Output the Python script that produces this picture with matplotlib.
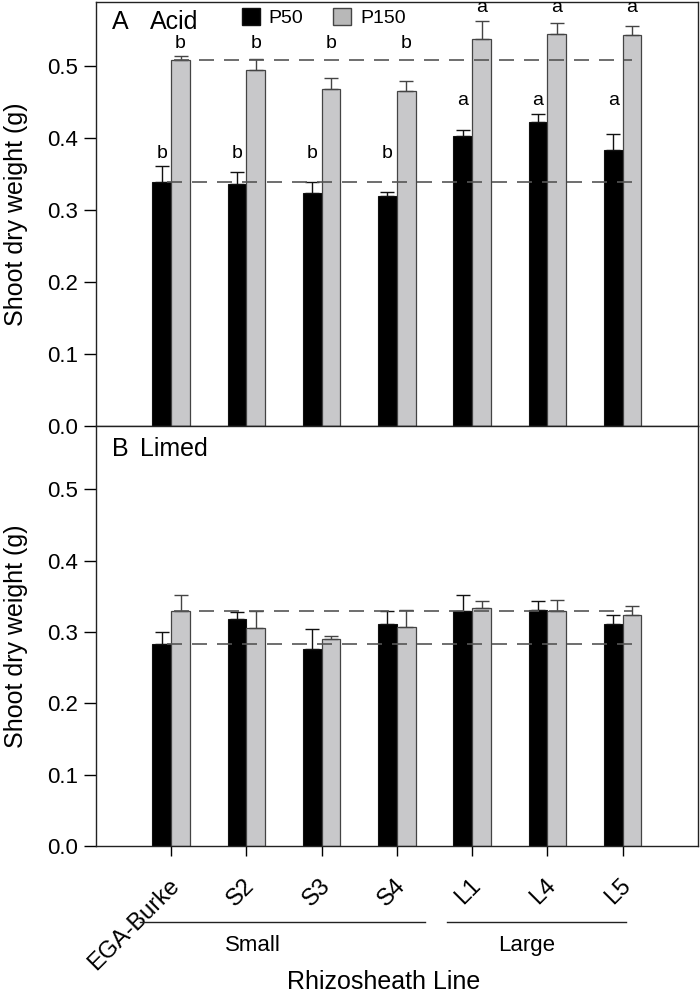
import matplotlib
matplotlib.use('Agg')
import matplotlib.pyplot as plt
from matplotlib.patches import Patch
from matplotlib.transforms import ScaledTranslation
import numpy as np

plt.rcParams['font.family'] = ['Liberation Sans', 'DejaVu Sans']

# Data
lines = ['EGA-Burke', 'S2', 'S3', 'S4', 'L1', 'L4', 'L5']

acid_p50 = [0.339, 0.336, 0.324, 0.320, 0.403, 0.422, 0.383]
acid_p50_se = [0.022, 0.017, 0.015, 0.005, 0.008, 0.012, 0.022]
acid_p150 = [0.509, 0.495, 0.468, 0.466, 0.538, 0.544, 0.543]
acid_p150_se = [0.005, 0.015, 0.016, 0.013, 0.025, 0.016, 0.013]
acid_p50_letters = ['b', 'b', 'b', 'b', 'a', 'a', 'a']
acid_p150_letters = ['b', 'b', 'b', 'b', 'a', 'a', 'a']

limed_p50 = [0.283, 0.319, 0.276, 0.312, 0.330, 0.331, 0.312]
limed_p50_se = [0.017, 0.009, 0.028, 0.017, 0.022, 0.012, 0.012]
limed_p150 = [0.330, 0.306, 0.290, 0.307, 0.334, 0.330, 0.324]
limed_p150_se = [0.022, 0.024, 0.004, 0.024, 0.010, 0.015, 0.012]

groups = ['Small', 'Large']

black = '#000000'
grey = '#c8c8ca'
x = np.arange(1, len(lines) + 1)
w = 0.25

fig = plt.figure(figsize=(7, 10), dpi=100)
ax1 = fig.add_axes([0.137, 0.574, 0.860, 0.424])
ax2 = fig.add_axes([0.137, 0.154, 0.860, 0.420])


def panel(ax, p50, p50_se, p150, p150_se):
    ax.bar(x - w / 2, p50, w, color=black, edgecolor='#111111', linewidth=0.8, zorder=2)
    ax.bar(x + w / 2, p150, w, color=grey, edgecolor='#444444', linewidth=0.9, zorder=2)
    zeros = np.zeros(len(x))
    ax.errorbar(x - w / 2, p50, yerr=[zeros, p50_se], fmt='none', ecolor='#111111',
                elinewidth=1, capsize=4.7, capthick=1, zorder=3)
    ax.errorbar(x + w / 2, p150, yerr=[zeros, p150_se], fmt='none', ecolor='#444444',
                elinewidth=1, capsize=4.7, capthick=1, zorder=3)
    # reference lines at the EGA-Burke values
    ax.hlines(p50[0], 0.94, 7.13, colors='#555555', linestyles=(0, (9, 6)), linewidth=1.2, zorder=4)
    ax.hlines(p150[0], 1.04, 7.13, colors='#555555', linestyles=(0, (9, 6)), linewidth=1.2, zorder=4)
    ax.set_xlim(0, 8)
    ax.set_ylim(0, 0.589)
    ax.set_yticks([0, 0.1, 0.2, 0.3, 0.4, 0.5])
    ax.set_yticklabels(['0.0', '0.1', '0.2', '0.3', '0.4', '0.5'])
    ax.tick_params(axis='y', direction='out', length=9, labelsize=16, width=1, pad=4)
    for s in ax.spines.values():
        s.set_linewidth(1)
        s.set_color('#222222')


panel(ax1, acid_p50, acid_p50_se, acid_p150, acid_p150_se)
panel(ax2, limed_p50, limed_p50_se, limed_p150, limed_p150_se)

# significance letters, one height per letter group
for means, ses, letters, off in [(acid_p50, acid_p50_se, acid_p50_letters, -w / 2),
                                 (acid_p150, acid_p150_se, acid_p150_letters, w / 2)]:
    tops = np.array(means) + np.array(ses)
    for i, let in enumerate(letters):
        y = max(tops[j] for j in range(len(letters)) if letters[j] == let) + 0.006
        ax1.text(x[i] + off, y, let, ha='center', va='bottom', fontsize=14)

ax1.set_xticks([])
ax1.text(0.027, 0.981, 'A', transform=ax1.transAxes, fontsize=18, va='top')
ax1.text(0.090, 0.981, 'Acid', transform=ax1.transAxes, fontsize=18, va='top')
ax1.legend(handles=[Patch(facecolor=black, edgecolor='#111111', label='P50'),
                    Patch(facecolor='#b8b8b8', edgecolor='#444444', label='P150')],
           loc='upper left', bbox_to_anchor=(0.242, 0.985), ncol=2, frameon=False,
           fontsize=14, handlelength=0.95, handleheight=0.95, handletextpad=0.45,
           columnspacing=1.5, borderaxespad=0, borderpad=0)

ax2.text(0.027, 0.974, 'B', transform=ax2.transAxes, fontsize=18, va='top')
ax2.text(0.073, 0.974, 'Limed', transform=ax2.transAxes, fontsize=18, va='top')
ax2.set_xticks(x)
ax2.set_xticklabels(lines, rotation=45, ha='right', va='center', rotation_mode='anchor', fontsize=17)
ax2.tick_params(axis='x', direction='out', length=7, width=1, pad=19)
for lab in ax2.get_xticklabels():
    lab.set_transform(lab.get_transform() + ScaledTranslation(0.05, 0, fig.dpi_scale_trans))

# group lines under the tick labels
xt = ax2.get_xaxis_transform()
ax2.plot([0.59, 4.37], [-0.181, -0.181], color='#222222', linewidth=1, clip_on=False, transform=xt)
ax2.plot([4.66, 7.04], [-0.181, -0.181], color='#222222', linewidth=1, clip_on=False, transform=xt)
ax2.text(2.09, -0.237, groups[0], ha='center', va='center', fontsize=16, transform=xt)
ax2.text(5.73, -0.237, groups[1], ha='center', va='center', fontsize=16, transform=xt)

fig.text(384 / 700, 0.018, 'Rhizosheath Line', ha='center', va='center', fontsize=18)
fig.text(16 / 700, 0.786, 'Shoot dry weight (g)', rotation=90, ha='center', va='center', fontsize=18)
fig.text(16 / 700, 0.364, 'Shoot dry weight (g)', rotation=90, ha='center', va='center', fontsize=18)

fig.savefig('out.png', dpi=100)
